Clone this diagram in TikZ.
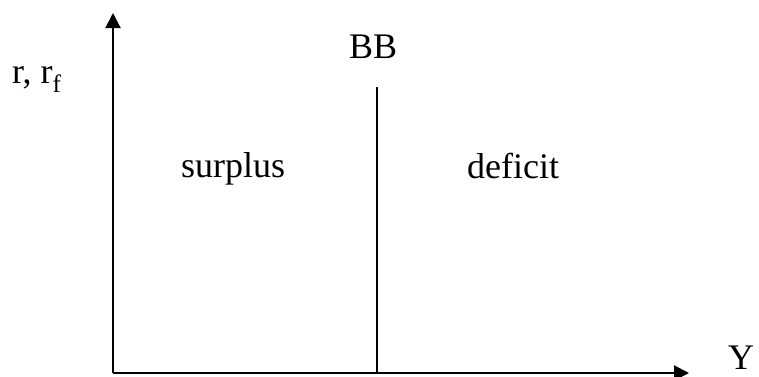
\documentclass[tikz,border=0pt]{standalone}
\usepackage{fontspec}
\setmainfont{Liberation Serif}
\usetikzlibrary{arrows.meta}
\begin{document}
\begin{tikzpicture}[x=1pt,y=1pt,
  axis/.style={line width=2pt,-{Triangle[length=15pt,width=15pt]}},
  curveline/.style={line width=1.4pt},
  lbl/.style={anchor=base west,inner sep=0pt,font=\fontsize{36}{40}\selectfont}]
\useasboundingbox (0,0) rectangle (759,376);
\coordinate (O) at (113,3);
\coordinate (ytop) at (113,363);
\coordinate (xend) at (689,3);
\coordinate (bbbot) at (377,3);
\coordinate (bbtop) at (377,289);
\draw[axis] (O) -- (ytop);
\draw[axis] (O) -- (xend);
\draw[curveline] (bbbot) -- (bbtop);
\node[lbl] (r) at (12,293) {r, r\textsubscript{f}};
\node[lbl] (bb) at (349,318) {BB};
\node[lbl] (sur) at (181,199) {surplus};
\node[lbl] (def) at (467,198) {deficit};
\node[lbl,text depth=0pt] (y) at (728,7) {Y};
\end{tikzpicture}
\end{document}
